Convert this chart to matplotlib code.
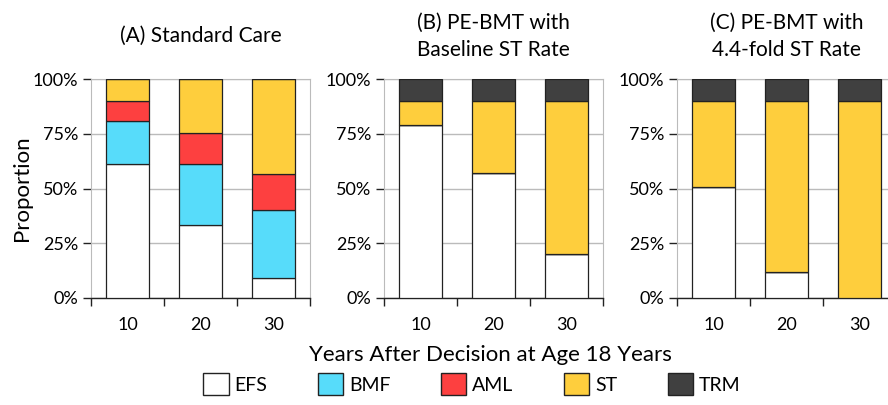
import matplotlib
matplotlib.use("Agg")
from matplotlib import pyplot as plt
from matplotlib.patches import Patch
import numpy as np

plt.rcParams['font.family'] = ['Lato', 'DejaVu Sans']

years = ['10', '20', '30']
categories = ['EFS', 'BMF', 'AML', 'ST', 'TRM']
colors = ['#FFFFFF', '#57DCFA', '#FD4040', '#FECE3D', '#404040']

# proportions per panel, bottom to top (EFS, BMF, AML, ST, TRM)
std_efs = [0.61, 0.335, 0.09]
std_bmf = [0.20, 0.275, 0.31]
std_aml = [0.09, 0.145, 0.165]
std_st = [0.10, 0.245, 0.435]
std_trm = [0.0, 0.0, 0.0]

base_efs = [0.79, 0.573, 0.20]
base_bmf = [0.0, 0.0, 0.0]
base_aml = [0.0, 0.0, 0.0]
base_st = [0.11, 0.327, 0.70]
base_trm = [0.10, 0.10, 0.10]

fold_efs = [0.507, 0.12, 0.0]
fold_bmf = [0.0, 0.0, 0.0]
fold_aml = [0.0, 0.0, 0.0]
fold_st = [0.393, 0.78, 0.90]
fold_trm = [0.10, 0.10, 0.10]

panels = [
    ('(A) Standard Care', [std_efs, std_bmf, std_aml, std_st, std_trm]),
    ('(B) PE-BMT with\nBaseline ST Rate', [base_efs, base_bmf, base_aml, base_st, base_trm]),
    ('(C) PE-BMT with\n4.4-fold ST Rate', [fold_efs, fold_bmf, fold_aml, fold_st, fold_trm]),
]

W, H = 888, 405
fig = plt.figure(figsize=(W / 100, H / 100), dpi=100)

lefts = [91, 384, 677]
ax_w = 219
ax_top, ax_bot = 79, 298

x = np.arange(len(years))
for (title, series), left in zip(panels, lefts):
    ax = fig.add_axes([left / W, 1 - ax_bot / H, ax_w / W, (ax_bot - ax_top) / H])
    bottom = np.zeros(len(years))
    for vals, col in zip(series, colors):
        vals = np.array(vals)
        ax.bar(x, vals, width=0.59, bottom=bottom, color=col,
               edgecolor='#222222', linewidth=0.9, zorder=3)
        bottom += vals
    ax.set_xlim(-0.5, 2.5)
    ax.set_ylim(0, 1)
    ax.set_yticks([0, 0.25, 0.5, 0.75, 1.0])
    ax.set_yticklabels(['0%', '25%', '50%', '75%', '100%'], fontsize=13)
    ax.set_xticks(x)
    ax.set_xticklabels(years, fontsize=13)
    ax.set_xticks([-0.5, 0.5, 1.5, 2.5], minor=True)
    ax.tick_params(axis='x', which='major', length=0, pad=14)
    ax.tick_params(axis='x', which='minor', length=6, width=1, color='#222222')
    ax.tick_params(axis='y', length=6, width=1, color='#222222', pad=3)
    ax.yaxis.grid(True, color='#BBBBBB', linewidth=1, zorder=0)
    for s in ['left', 'right', 'top']:
        ax.spines[s].set_color('#BBBBBB')
    ax.spines['bottom'].set_color('#222222')
    ax.spines['bottom'].set_linewidth(1)
    cx = (left + ax_w / 2) / W
    fig.text(cx, 1 - 36 / H, title, fontsize=15, ha='center', va='center',
             linespacing=1.45)

fig.text(22 / W, 1 - 188 / H, 'Proportion', rotation=90, fontsize=16,
         ha='center', va='center')
fig.text(490 / W, 1 - 355 / H, 'Years After Decision at Age 18 Years',
         fontsize=16, ha='center', va='center')

handles = [Patch(facecolor=c, edgecolor='#222222', linewidth=1) for c in colors]
fig.legend(handles, categories, loc='center', bbox_to_anchor=(472 / W, 1 - 384 / H),
           ncol=5, frameon=False, fontsize=14, handlelength=1.3, handleheight=1.3,
           handletextpad=0.3, columnspacing=2.6)

fig.savefig('out.png', dpi=100)
